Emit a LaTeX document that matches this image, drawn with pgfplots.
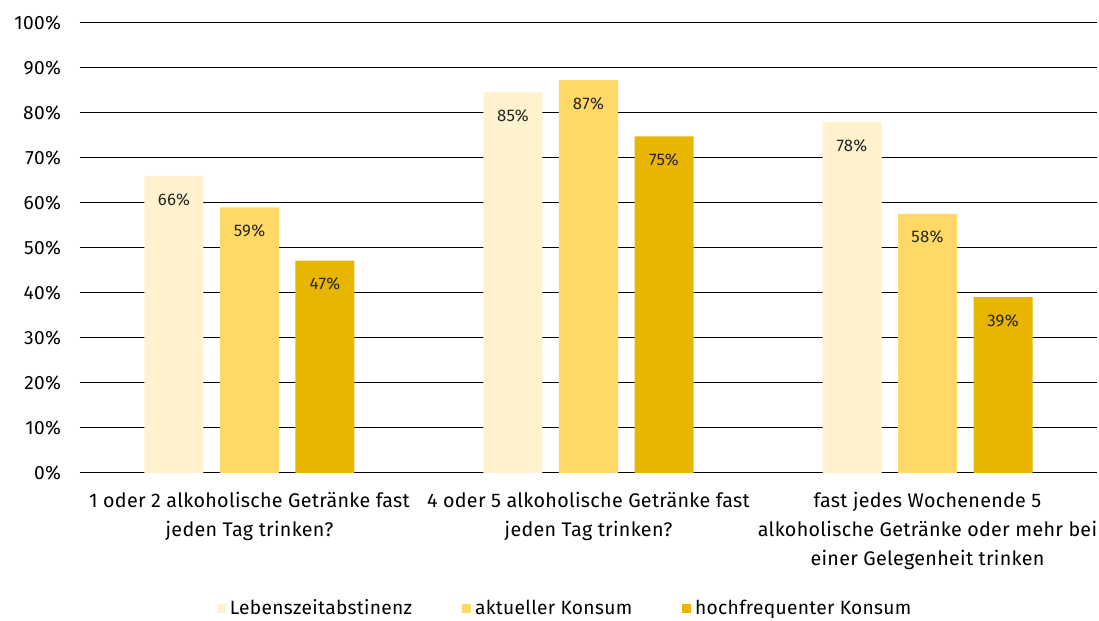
\documentclass[border=0pt]{standalone}
\usepackage{fontspec}
\setmainfont[LetterSpace=1.5]{Fira Sans}
\usepackage{pgfplots}
\pgfplotsset{compat=1.18}
\definecolor{lightgold}{RGB}{255,242,204}
\definecolor{midgold}{RGB}{255,217,102}
\definecolor{darkgold}{RGB}{232,181,0}
\definecolor{zeroline}{RGB}{217,217,217}

\begin{document}
\begin{tikzpicture}
% fixed canvas: 1099x621 px at 0.5pt per px
\path[use as bounding box] (-40pt,-74pt) rectangle (509.5pt,236.5pt);
\begin{axis}[
    at={(0,0)}, anchor=south west,
    scale only axis,
    width=508.5pt, height=225pt,
    ybar=8.25pt, bar width=29.5pt,
    xmin=-0.5, xmax=2.5,
    ymin=0, ymax=100,
    xtick={0,1,2},
    xticklabels={
        {1 oder 2 alkoholische Getränke fast\\jeden Tag trinken?},
        {4 oder 5 alkoholische Getränke fast\\jeden Tag trinken?},
        {fast jedes Wochenende 5\\alkoholische Getränke oder mehr bei\\einer Gelegenheit trinken}},
    x tick label style={align=center, font=\fontsize{9.85}{14.5}\selectfont, yshift=-2pt},
    major x tick style={draw=none},
    ytick={10,20,...,100},
    extra y ticks={0},
    extra y tick style={grid style={zeroline, line width=1.2pt}},
    yticklabel={\pgfmathprintnumber{\tick}\%},
    y tick label style={font=\fontsize{9.6}{10}\selectfont, xshift=-6pt},
    /pgf/number format/assume math mode=true,
    ymajorgrids,
    major grid style={black, line width=0.5pt},
    major y tick style={draw=none},
    axis line style={draw=none},
    nodes near coords={\pgfmathprintnumber[fixed,precision=0]{\pgfplotspointmeta}\%},
    every node near coord/.append style={anchor=north, yshift=-5pt, font=\fontsize{8.4}{9}\selectfont, text=black!85},
    legend style={
        at={(0.478,-68pt)}, anchor=center,
        draw=none, legend columns=-1,
        font=\fontsize{9.6}{10}\selectfont,
        /tikz/every even column/.append style={column sep=23pt},
    },
    legend image code/.code={\fill[#1] (0pt,-2pt) rectangle (4.5pt,2.5pt);},
]
\addplot[fill=lightgold, draw=none] coordinates {(0,66) (1,84.6) (2,78)};
\addplot[fill=midgold, draw=none] coordinates {(0,59) (1,87.3) (2,57.6)};
\addplot[fill=darkgold, draw=none] coordinates {(0,47.2) (1,74.8) (2,39.1)};
\legend{Lebenszeitabstinenz, aktueller Konsum, hochfrequenter Konsum}
\end{axis}
\end{tikzpicture}
\end{document}
